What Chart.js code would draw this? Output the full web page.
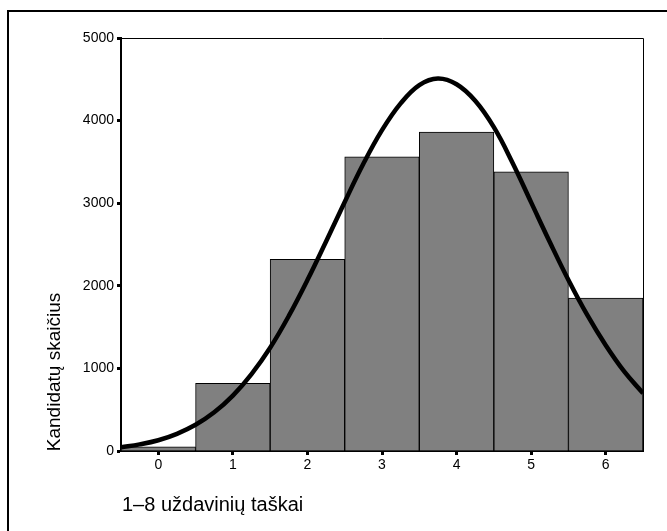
<!DOCTYPE html>
<html>
<head>
<meta charset="utf-8">
<script src="https://cdn.jsdelivr.net/npm/chart.js@4"></script>
<style>
  body { margin: 0; background: #fff; }
  canvas { display: block; }
</style>
</head>
<body>
<canvas id="hist-chart" width="667" height="531"></canvas>
<script>
  'use strict';

  // histogram
  const categories = ['0', '1', '2', '3', '4', '5', '6'];
  const counts = [50, 820, 2320, 3560, 3860, 3380, 1850];

  // fitted curve
  const curveX = [-0.5, -0.25, 0, 0.25, 0.5, 0.75, 1, 1.25, 1.5, 1.75, 2, 2.25, 2.5, 2.75, 3,
    3.25, 3.5, 3.75, 4, 4.25, 4.5, 4.75, 5, 5.25, 5.5, 5.75, 6, 6.25, 6.5];
  const curveY = [45, 80, 130, 208, 317, 468, 670, 931, 1250, 1635, 2069, 2537, 3015, 3477, 3884,
    4208, 4430, 4510, 4440, 4240, 3920, 3490, 3010, 2530, 2070, 1650, 1280, 960, 700];

  const yTicks = [0, 1000, 2000, 3000, 4000, 5000];

  const yTitle = 'Kandidatų skaičius';
  const xTitle = '1–8 uždavinių taškai';

  const FONT = "'Liberation Sans', Arial, sans-serif";

  const framePlugin = {
    id: 'frame',
    beforeDatasetsDraw(chart) {
      const c = chart.ctx;
      const a = chart.chartArea;
      c.save();
      c.strokeStyle = '#000';
      c.lineWidth = 1;
      c.beginPath();
      c.moveTo(a.left, a.top + 0.5);
      c.lineTo(a.right + 0.5, a.top + 0.5);
      c.lineTo(a.right + 0.5, a.bottom);
      c.stroke();
      c.restore();
    },
    afterDraw(chart) {
      const c = chart.ctx;
      c.save();
      // outer box (right and bottom edges fall off the picture)
      c.strokeStyle = '#000';
      c.lineWidth = 2;
      c.strokeRect(8, 11, 700, 600);

      c.fillStyle = '#000';
      c.font = '19px ' + FONT;
      c.textAlign = 'center';
      c.textBaseline = 'middle';
      c.translate(55, 372);
      c.rotate(-Math.PI / 2);
      c.fillText(yTitle, 0, 0);
      c.restore();

      c.save();
      c.fillStyle = '#000';
      c.font = '20px ' + FONT;
      c.textAlign = 'left';
      c.textBaseline = 'middle';
      c.fillText(xTitle, 122, 505);
      c.restore();
    }
  };

  const ctx = document.getElementById('hist-chart');

  new Chart(ctx, {
    data: {
      labels: categories,
      datasets: [
        {
          type: 'line',
          xAxisID: 'xc',
          data: curveX.map((x, i) => ({ x: x, y: curveY[i] })),
          borderColor: '#000',
          borderWidth: 4.5,
          pointRadius: 0,
          tension: 0.4,
          fill: false,
          order: 0
        },
        {
          type: 'bar',
          xAxisID: 'x',
          data: counts,
          backgroundColor: '#808080',
          borderColor: '#000',
          borderWidth: 1,
          barPercentage: 1,
          categoryPercentage: 1,
          grouped: false,
          order: 1
        }
      ]
    },
    options: {
      responsive: false,
      animation: false,
      layout: {
        padding: { top: 38, right: 24, left: 0, bottom: 0 }
      },
      scales: {
        x: {
          type: 'category',
          offset: true,
          afterFit(scale) { scale.height = 80; },
          border: { color: '#000', width: 2 },
          grid: {
            display: true,
            offset: false,
            drawOnChartArea: false,
            tickLength: 4,
            tickWidth: 3,
            tickColor: '#000'
          },
          ticks: {
            color: '#000',
            font: { family: FONT, size: 14 },
            padding: 2
          }
        },
        xc: {
          type: 'linear',
          display: false,
          min: -0.5,
          max: 6.5
        },
        y: {
          min: 0,
          max: 5000,
          afterFit(scale) { scale.width = 121; },
          afterBuildTicks(scale) { scale.ticks = yTicks.map(v => ({ value: v })); },
          border: { color: '#000', width: 2 },
          grid: {
            display: true,
            drawOnChartArea: false,
            tickLength: 4,
            tickWidth: 3,
            tickColor: '#000'
          },
          ticks: {
            color: '#000',
            font: { family: FONT, size: 14 },
            padding: 3,
            callback: (v) => String(v)
          }
        }
      },
      plugins: {
        legend: { display: false },
        tooltip: { enabled: false }
      }
    },
    plugins: [framePlugin]
  });
</script>
</body>
</html>
